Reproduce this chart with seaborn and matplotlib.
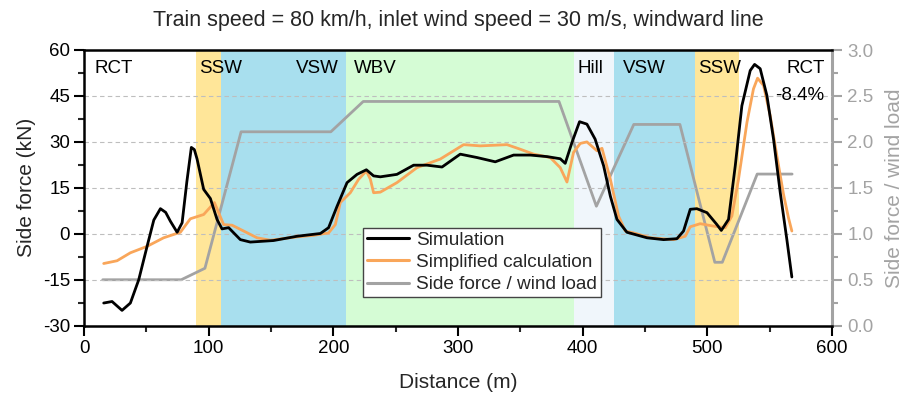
import numpy as np
import pandas as pd
import matplotlib
matplotlib.use("Agg")
import matplotlib.pyplot as plt
from matplotlib.lines import Line2D
from matplotlib.ticker import MultipleLocator
import seaborn as sns

# ---------------- data ----------------
sim_x = [15.8, 22.5, 30.5, 37.2, 43.9, 50.6, 56.0, 61.3, 65.5, 69.3, 74.7, 78.7, 82.5, 86.1, 88.5, 90.7, 96.0,
         101.4, 106.7, 110.7, 116.0, 125.4, 133.4, 152.0, 170.9, 189.6, 196.2, 203.0,
         211.0, 219.0, 226.5, 232.3, 237.7, 251.0, 264.4, 275.1, 287.2, 301.8, 315.2,
         329.9, 344.6, 358.0, 371.4, 382.0, 386.0, 391.4, 397.5, 403.4, 410.0, 416.8,
         422.2, 427.5, 435.5, 451.6, 464.9, 475.6, 480.9, 486.3, 491.6, 499.7, 507.7,
         511.2, 517.0, 522.4, 527.7, 534.4, 537.9, 542.4, 547.8, 553.1, 558.5, 563.8, 567.8]
sim_y = [-22.6, -22.1, -25.0, -22.6, -15.0, -4.1, 4.5, 8.2, 7.0, 4.1, 0.5, 3.6, 17.0, 28.2, 27.5, 24.4, 14.5,
         11.5, 4.7, 1.6, 2.0, -1.9, -2.7, -2.2, -0.8, 0.1, 2.0, 9.0,
         16.7, 19.4, 20.9, 18.9, 18.6, 19.4, 22.4, 22.4, 21.8, 26.0, 24.9,
         23.5, 25.7, 25.7, 25.2, 24.5, 23.0, 29.8, 36.6, 35.8, 30.9, 22.2,
         12.3, 4.7, 0.5, -1.3, -1.9, -1.6, 0.9, 8.0, 8.2, 6.9, 3.0,
         1.1, 4.7, 22.2, 41.8, 53.3, 55.3, 53.9, 45.1, 30.9, 13.4, -1.9, -14.1]

calc_x = [15.8, 26.5, 37.2, 50.6, 63.9, 77.3, 85.3, 96.0, 104.6, 108.0, 112.0, 118.8,
          128.1, 138.8, 149.5, 170.9, 184.2, 196.2, 201.6, 205.6, 213.6, 220.3, 226.5,
          229.7, 232.3, 237.7, 251.0, 267.1, 285.8, 304.5, 317.9, 339.3, 350.0, 360.7,
          374.0, 382.0, 387.4, 392.7, 398.1, 403.4, 411.5, 415.5, 422.2, 428.8, 434.2,
          440.8, 454.2, 472.9, 482.3, 486.3, 494.3, 505.0, 514.4, 519.7, 525.0, 531.8,
          537.0, 540.3, 545.1, 550.4, 555.8, 561.1, 565.1, 567.8]
calc_y = [-9.7, -8.8, -6.2, -4.1, -1.3, 0.5, 4.9, 6.3, 10.2, 6.9, 3.0, 2.8,
          0.9, -1.3, -2.1, -1.0, -0.5, 0.3, 3.0, 10.2, 13.4, 17.8, 20.5,
          17.8, 13.4, 13.6, 16.7, 21.6, 24.4, 29.1, 28.7, 29.1, 27.6, 26.0,
          24.9, 21.6, 16.9, 26.6, 29.5, 30.0, 27.1, 27.9, 17.8, 5.8, 0.9,
          0.3, -1.3, -1.9, -0.8, 2.3, 3.3, 2.5, 2.0, 5.8, 17.8, 36.4,
          47.3, 50.8, 48.4, 38.6, 25.4, 12.9, 5.2, 0.9]

ratio_x = [15, 78, 97, 126, 198, 224, 381, 411, 441, 478, 506, 512, 540, 568]
ratio_y = [0.5, 0.5, 0.625, 2.11, 2.11, 2.44, 2.44, 1.3, 2.19, 2.19, 0.69, 0.69, 1.65, 1.65]

band_start = [90, 110, 210, 393, 425, 490]
band_end = [110, 210, 393, 425, 490, 525]
band_color = ["#FFE699", "#A8DFEE", "#D5FCD5", "#F0F6FB", "#A8DFEE", "#FFE699"]

label_text = ["RCT", "SSW", "VSW", "WBV", "Hill", "VSW", "SSW", "RCT", "-8.4%"]
label_x = [8.3, 92.5, 204.3, 216.8, 395.9, 432.3, 492.4, 594, 594]
label_y = [53.9, 53.9, 53.9, 53.9, 53.9, 53.9, 53.9, 53.9, 45.0]
label_ha = ["left", "left", "right", "left", "left", "left", "left", "right", "right"]

series_names = ["Simulation", "Simplified calculation", "Side force / wind load"]

# ---------------- style ----------------
sns.set_theme(style="ticks")
plt.rcParams["font.family"] = ["Liberation Sans", "DejaVu Sans"]
plt.rcParams["axes.unicode_minus"] = False
plt.rcParams["axes.linewidth"] = 1.6

BLACK = "#000000"
ORANGE = "#F9A65A"
GRAY = "#A3A3A3"

fig = plt.figure(figsize=(9.04, 4.05), dpi=100)
ax = fig.add_axes([84 / 904, 1 - 325.7 / 405, 748 / 904, 275.7 / 405])
ax2 = ax.twinx()

# ax2 is drawn underneath: it carries the bands, grid and the ratio line
ax.set_zorder(ax2.get_zorder() + 1)
ax.patch.set_visible(False)
ax2.patch.set_visible(True)
ax2.patch.set_facecolor("white")

for s, e, c in zip(band_start, band_end, band_color):
    ax2.axvspan(s, e, color=c, lw=0, zorder=0)

ax.set_xlim(0, 600)
ax.set_ylim(-30, 60)
ax2.set_ylim(0, 3.0)

ax.xaxis.set_major_locator(MultipleLocator(100))
ax.xaxis.set_minor_locator(MultipleLocator(50))
ax.yaxis.set_major_locator(MultipleLocator(15))
ax.yaxis.set_minor_locator(MultipleLocator(7.5))
ax2.yaxis.set_major_locator(MultipleLocator(0.5))
ax2.yaxis.set_minor_locator(MultipleLocator(0.25))

ax.grid(False)
ax2.grid(True, which="major", axis="both", color="#BEBEBE", ls=(0, (4, 3)), lw=0.8, zorder=1)
ax2.set_axisbelow(False)

df_sim = pd.DataFrame({"x": sim_x, "y": sim_y})
df_calc = pd.DataFrame({"x": calc_x, "y": calc_y})
df_ratio = pd.DataFrame({"x": ratio_x, "y": ratio_y})

sns.lineplot(data=df_ratio, x="x", y="y", ax=ax2, color=GRAY, lw=2.0, estimator=None, sort=False, zorder=2)
sns.lineplot(data=df_calc, x="x", y="y", ax=ax, color=ORANGE, lw=2.0, estimator=None, sort=False, zorder=3)
sns.lineplot(data=df_sim, x="x", y="y", ax=ax, color=BLACK, lw=2.0, estimator=None, sort=False, zorder=4)

for t, x, y, ha in zip(label_text, label_x, label_y, label_ha):
    ax.text(x, y, t, ha=ha, va="center", fontsize=13.5, color="black", zorder=5)

ax.set_xlabel("Distance (m)", fontsize=15, labelpad=12)
ax.set_ylabel("Side force (kN)", fontsize=15, labelpad=5)
ax2.set_ylabel("Side force / wind load", fontsize=15, color=GRAY, labelpad=8)
ax.set_title("Train speed = 80 km/h, inlet wind speed = 30 m/s, windward line",
             fontsize=15.5, pad=17)

ax.tick_params(axis="both", which="major", direction="out", length=7, width=1.5,
               labelsize=13.5, colors="black", pad=3)
ax.tick_params(axis="both", which="minor", direction="out", length=4, width=1.5)
ax2.tick_params(axis="y", which="major", direction="out", length=7, width=1.5,
                labelsize=13.5, colors=GRAY, pad=4)
ax2.tick_params(axis="y", which="minor", direction="out", length=4, width=1.5, colors=GRAY)

for sp in ["left", "bottom", "top"]:
    ax.spines[sp].set_color("black")
    ax.spines[sp].set_linewidth(1.8)
ax.spines["right"].set_visible(False)
ax2.spines["right"].set_color(GRAY)
ax2.spines["right"].set_linewidth(2.2)
ax2.spines["left"].set_visible(False)
ax2.spines["bottom"].set_visible(False)
ax2.spines["top"].set_visible(False)

handles = [Line2D([0], [0], color=BLACK, lw=2.2),
           Line2D([0], [0], color=ORANGE, lw=2.2),
           Line2D([0], [0], color=GRAY, lw=2.2)]
leg = ax.legend(handles, series_names, loc="lower left", bbox_to_anchor=(0.373, 0.104),
                fontsize=13.7, frameon=True, fancybox=False, edgecolor="#444444",
                framealpha=1, borderpad=0.2, labelspacing=0.25, handlelength=2.2,
                handletextpad=0.4, borderaxespad=0)
leg.get_frame().set_linewidth(1.0)
leg.set_zorder(10)

fig.savefig("out.png", dpi=100)
